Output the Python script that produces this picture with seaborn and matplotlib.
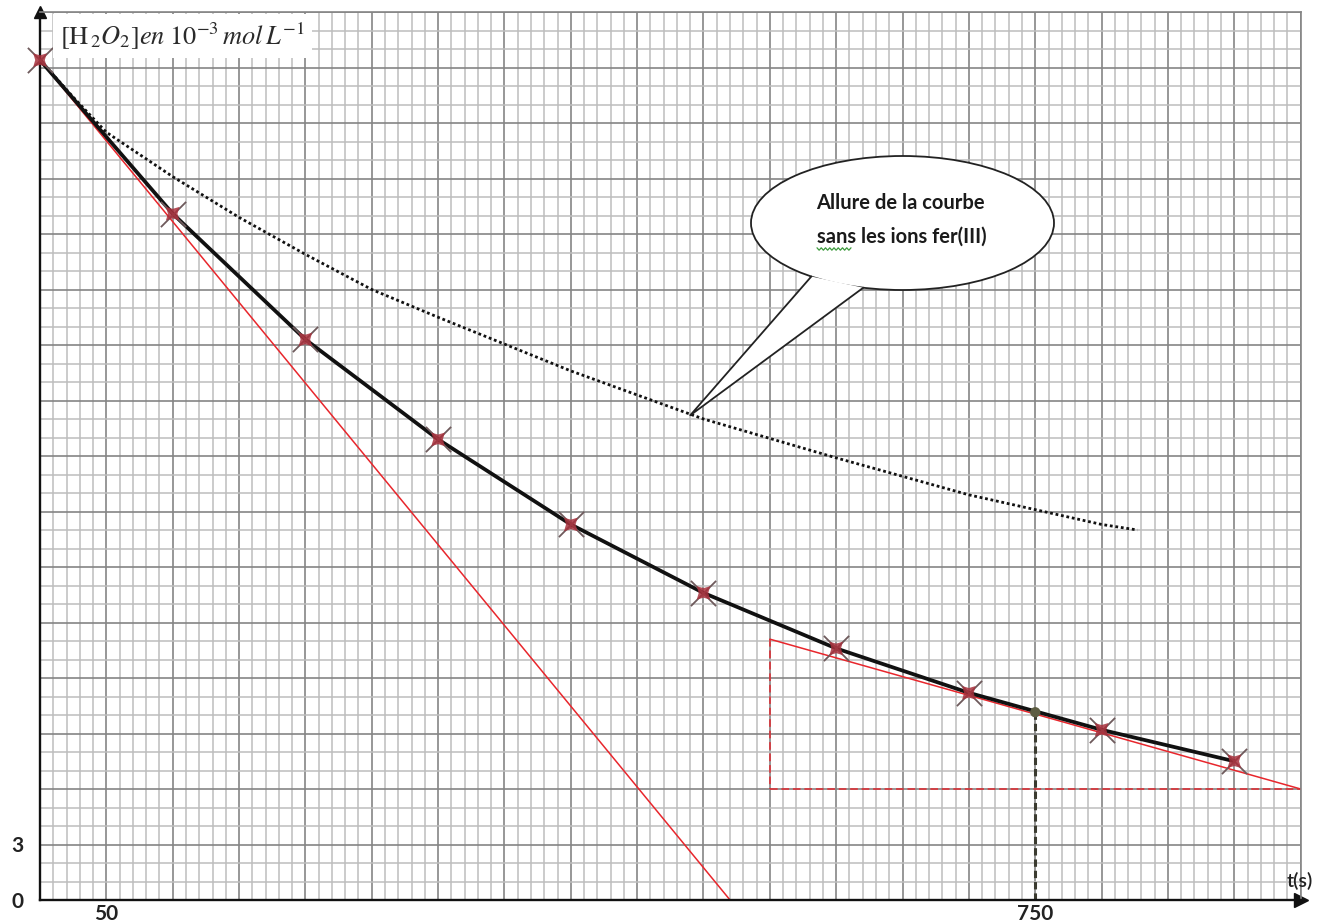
import numpy as np
import pandas as pd
import matplotlib
matplotlib.use('Agg')
import matplotlib.pyplot as plt
import seaborn as sns
from matplotlib.patches import Ellipse, Polygon
from matplotlib.lines import Line2D
from matplotlib.ticker import FixedLocator, FuncFormatter

# mesures avec ions fer(III)
t_mesure = [0, 100, 200, 300, 400, 500, 600, 700, 800, 900]
c_mesure = [45.4, 37.1, 30.3, 24.9, 20.3, 16.6, 13.6, 11.2, 9.2, 7.5]

# allure sans les ions fer(III) (pointillés)
t_sans = [0, 25, 50, 100, 150, 200, 250, 300, 400, 500, 600, 700, 800, 827]
c_sans = [45.4, 43.4, 41.5, 39.1, 36.9, 34.9, 33.0, 31.5, 28.6, 26.0, 23.9, 21.9, 20.3, 20.0]

# tangente à t = 0
t_tang0 = [0, 520]
c_tang0 = [45.4, 0.0]

# tangente à t = 750 s et triangle
t_tang1 = [550, 950]
c_tang1 = [14.1, 6.0]
t_lu = 750
c_lu = 10.15

x_labels = [50, 750]
y_labels = [0, 3]

W, H = 1318, 923
PX_T, PX_C = 1.327, 18.5

sns.set_theme(style='white')
plt.rcParams['font.family'] = ['Lato', 'DejaVu Sans']
plt.rcParams['mathtext.fontset'] = 'stix'

fig = plt.figure(figsize=(W / 100, H / 100), dpi=100)
ax = fig.add_axes([40 / W, 23 / H, 950 * PX_T / W, 48 * PX_C / H])
ax.set_xlim(0, 950)
ax.set_ylim(0, 48)

# papier millimétré
ax.xaxis.set_major_locator(FixedLocator(np.arange(0, 951, 50)))
ax.xaxis.set_minor_locator(FixedLocator(np.arange(0, 951, 10)))
ax.yaxis.set_major_locator(FixedLocator(np.arange(0, 49, 3)))
ax.yaxis.set_minor_locator(FixedLocator(np.arange(0, 49, 1)))
ax.grid(which='minor', color='#bdbdbd', lw=1.1)
ax.grid(which='major', color='#858585', lw=1.2)
ax.set_axisbelow(True)

ax.xaxis.set_major_formatter(FuncFormatter(lambda v, p: f'{int(v)}' if int(v) in x_labels else ''))
ax.yaxis.set_major_formatter(FuncFormatter(lambda v, p: f'{int(v)}' if int(v) in y_labels else ''))
ax.tick_params(axis='x', which='both', length=0, pad=3, labelsize=15)
ax.tick_params(axis='y', which='major', length=7, width=1.3, color='#333333', pad=5, labelsize=15)
ax.tick_params(axis='y', which='minor', length=0)

for s in ['top', 'right']:
    ax.spines[s].set_color('#858585')
    ax.spines[s].set_linewidth(1.2)
for s in ['left', 'bottom']:
    ax.spines[s].set_color('#111111')
    ax.spines[s].set_linewidth(1.7)
ax.plot(0, 1.0, marker='^', color='#111111', ms=9, transform=ax.transAxes, clip_on=False)
ax.plot(1.0, 0, marker='>', color='#111111', ms=10, transform=ax.transAxes, clip_on=False)

df_mes = pd.DataFrame({'t': t_mesure, 'c': c_mesure})
df_sans = pd.DataFrame({'t': t_sans, 'c': c_sans})

# tangentes (rouge)
sns.lineplot(x=t_tang0, y=c_tang0, ax=ax, color='#e8262c', lw=1.1, estimator=None, sort=False)
sns.lineplot(x=t_tang1, y=c_tang1, ax=ax, color='#e8262c', lw=1.1, estimator=None, sort=False)
sns.lineplot(x=[t_tang1[0], t_tang1[0]], y=[c_tang1[0], c_tang1[1]], ax=ax, color='#e02a30',
             lw=1.1, linestyle=(0, (5, 2.5)), estimator=None, sort=False)
sns.lineplot(x=t_tang1, y=[c_tang1[1], c_tang1[1]], ax=ax, color='#e02a30',
             lw=1.1, linestyle=(0, (5, 2.5)), estimator=None, sort=False)

# lecture à t = 750 s
sns.lineplot(x=[t_lu, t_lu], y=[c_lu, 0], ax=ax, color='#3b3b30', lw=2.2,
             linestyle=(0, (2.4, 1.3)), estimator=None, sort=False)

# courbe sans fer(III)
sns.lineplot(data=df_sans, x='t', y='c', ax=ax, color='#111111', lw=2.0,
             linestyle=(0, (1, 1)), estimator=None, sort=False)

# courbe expérimentale
sns.lineplot(data=df_mes, x='t', y='c', ax=ax, color='#111111', lw=2.7, estimator=None, sort=False)
sns.scatterplot(data=df_mes, x='t', y='c', ax=ax, marker='x', s=330, color='#6e5a5c',
                linewidth=1.3, clip_on=False, zorder=5)
sns.scatterplot(data=df_mes, x='t', y='c', ax=ax, marker=(4, 1, 45), s=190, color='#a8303c',
                edgecolor='none', alpha=0.85, clip_on=False, zorder=6)
sns.scatterplot(x=[t_lu], y=[c_lu], ax=ax, s=55, color='#5d5d42', edgecolor='none', zorder=7)

ax.set_xlabel('')
ax.set_ylabel('')
for lab in ax.get_xticklabels() + ax.get_yticklabels():
    lab.set_fontweight('bold')
    lab.set_color('#222222')

# étiquette de l'axe des ordonnées
fig.text(60 / W, 1 - 36 / H, r'$\left[\mathrm{H}_{\,2}O_2\right]en\;10^{-3}\,mol\,L^{-1}$',
         fontsize=19, color='#2a2a2a', va='center', ha='left',
         bbox=dict(fc='white', ec='none', pad=5))
fig.text(1300 / W, 1 - 881 / H, 't(s)', fontsize=14, fontweight='semibold', color='#222222',
         ha='center', va='center')


# bulle
def fpx(x, y):
    return (x / W, 1 - y / H)


cx, cy, a, b = 902.5, 223, 151.5, 67
bulle = Ellipse(fpx(cx, cy), 2 * a / W, 2 * b / H, transform=fig.transFigure,
                fc='white', ec='#222222', lw=1.3)
fig.add_artist(bulle)
base1 = fpx(cx + a * np.cos(np.radians(127)), cy + b * np.sin(np.radians(127)))
base2 = fpx(cx + a * np.cos(np.radians(105)), cy + b * np.sin(np.radians(105)))
tip = fig.transFigure.inverted().transform(ax.transData.transform((490, 26.2)))
fig.add_artist(Polygon([base1, tip, base2], closed=True, transform=fig.transFigure,
                       fc='white', ec='none'))
fig.add_artist(Line2D([base1[0], tip[0], base2[0]], [base1[1], tip[1], base2[1]],
                      transform=fig.transFigure, color='#222222', lw=1.3))
fig.text(900 / W, 1 - 203 / H, 'Allure de la courbe', fontsize=14.5, fontweight='bold',
         color='#1a1a1a', ha='center', va='center')
fig.text(902 / W, 1 - 237 / H, 'sans les ions fer(III)', fontsize=14.5, fontweight='bold',
         color='#1a1a1a', ha='center', va='center')
zx = np.linspace(817, 851, 17)
zy = 249 + np.where(np.arange(17) % 2 == 0, -1.2, 1.2)
fig.add_artist(Line2D(zx / W, 1 - zy / H, transform=fig.transFigure, color='#3c9a3c', lw=0.9))

fig.savefig('out.png', dpi=100, facecolor='white')
